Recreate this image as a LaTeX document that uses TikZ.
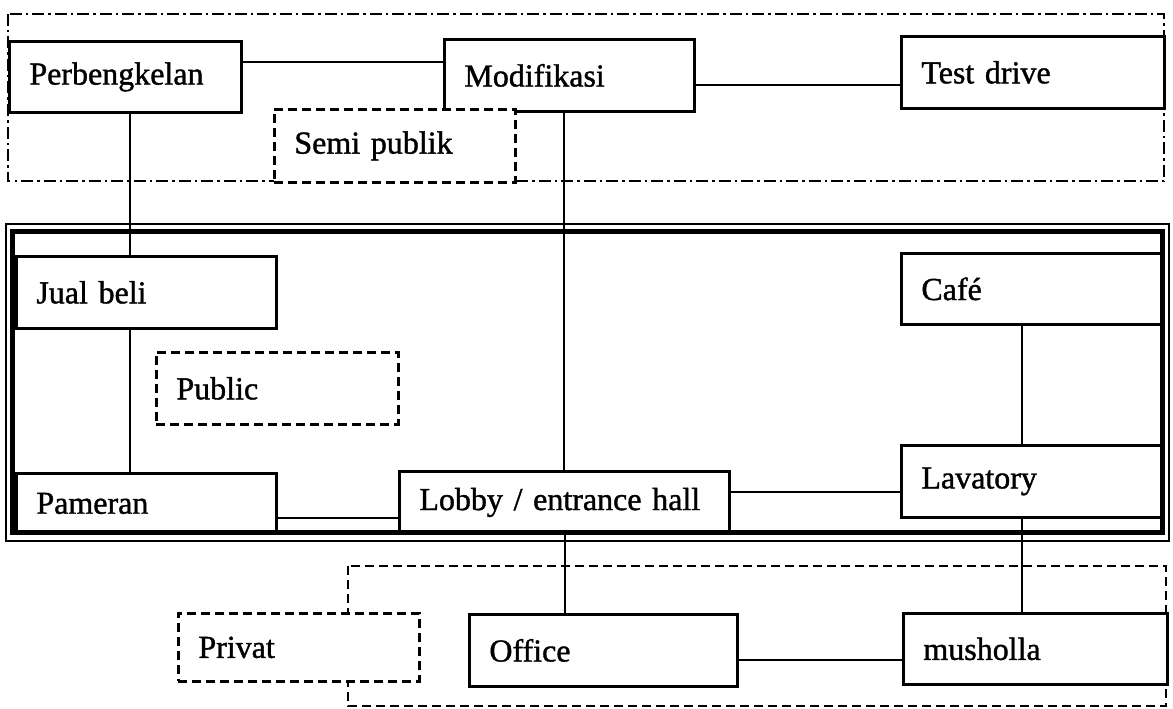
\documentclass[tikz,border=0pt]{standalone}
\usepackage{fontspec}
\setmainfont{Liberation Serif}[FakeBold=1.2]
\usetikzlibrary{positioning}

\tikzset{
  ruang/.style={draw, line width=2.8pt, fill=white, anchor=north west,
    inner xsep=20pt, inner ysep=0pt, align=left, font=\fontsize{32}{36}\selectfont},
  zona/.style={ruang, dash pattern=on 9pt off 5pt},
  link/.style={line width=2.4pt},
  dashdot/.style={line width=2.4pt, dash pattern=on 12pt off 4pt on 2.5pt off 4pt},
}

\begin{document}
\begin{tikzpicture}[x=1pt, y=-1pt]
  \fill[white] (0,0) rectangle (1173,709);
  \useasboundingbox (0,0) rectangle (1173,709);

  % zone borders
  \draw[dashdot] (8,14) rectangle (1164,181);
  \draw[line width=2.4pt, dash pattern=on 9pt off 5pt] (348,566) rectangle (1166,706);

  % top row
  \node[ruang, text width=192pt, minimum height=71pt] (perb) at (8,40) {Perbengkelan};
  \node[ruang, text width=210pt, minimum height=72pt] (modif) at (443,38) {Modifikasi};
  \node[ruang, text width=223pt, minimum height=72pt] (test) at (900,35) {Test drive};
  \node[zona, text width=201pt, minimum height=73pt] (semi) at (273,108) {Semi publik};

  % middle
  \node[ruang, text width=220pt, minimum height=72pt] (jual) at (15,255) {Jual beli};
  \node[zona, text width=202pt, minimum height=72pt] (public) at (155,351) {Public};
  \node[ruang, text width=220pt, minimum height=60pt] (pameran) at (15,472) {Pameran};
  \node[ruang, text width=290pt, minimum height=62pt] (lobby) at (398,470) {Lobby / entrance hall};
  \node[ruang, text width=222pt, minimum height=71pt] (cafe) at (900,252) {Café};
  \node[ruang, text width=222pt, minimum height=72pt] (lav) at (900,444) {Lavatory};

  % bottom
  \node[zona, text width=201pt, minimum height=68pt] (privat) at (177,612) {Privat};
  \node[ruang, text width=228pt, minimum height=72pt] (office) at (468,613) {Office};
  \node[ruang, text width=224pt, minimum height=71pt] (mush) at (902,612) {musholla};

  % connections
  \draw[link] (perb.east |- 0,62) -- (modif.west |- 0,62);
  \draw[link] (modif.east |- 0,85) -- (test.west |- 0,85);
  \draw[link] (perb.south -| 130,0) -- (jual.north -| 130,0);
  \draw[link] (jual.south -| 130,0) -- (pameran.north -| 130,0);
  \draw[link] (modif.south -| 564,0) -- (lobby.north -| 564,0);
  \draw[link] (pameran.east |- 0,518) -- (lobby.west |- 0,518);
  \draw[link] (lobby.east |- 0,492) -- (lav.west |- 0,492);
  \draw[link] (cafe.south -| 1022,0) -- (lav.north -| 1022,0);
  \draw[link] (lobby.south -| 565,0) -- (office.north -| 565,0);
  \draw[link] (lav.south -| 1022,0) -- (mush.north -| 1022,0);
  \draw[link] (office.east |- 0,660) -- (mush.west |- 0,660);

  % public frame
  \draw[line width=1.4pt] (6,224) rectangle (1169,541);
  \draw[line width=5pt] (12.5,231) rectangle (1162,532);
\end{tikzpicture}
\end{document}
